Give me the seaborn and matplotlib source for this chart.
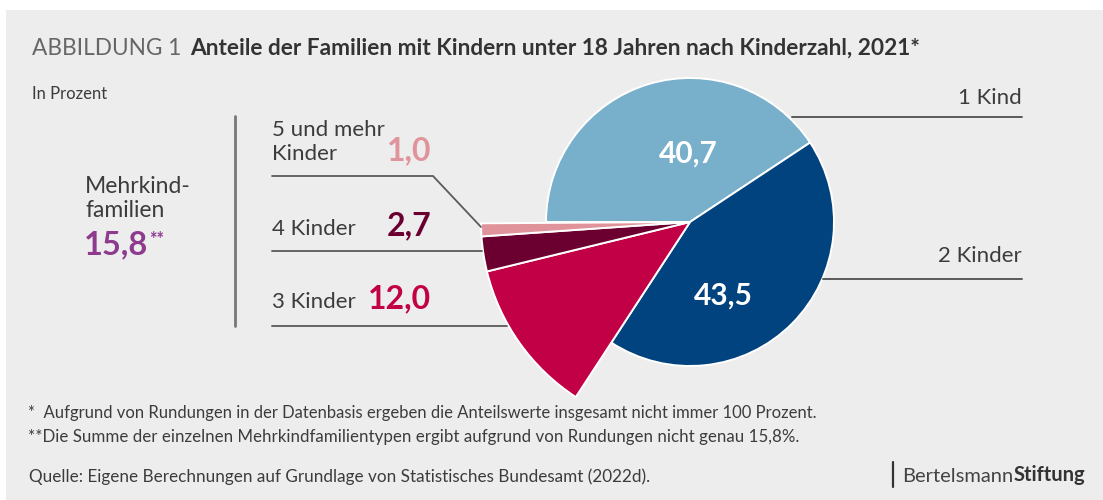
import matplotlib.pyplot as plt
import matplotlib.patches as mpatches
import seaborn as sns
import numpy as np

# Daten
kategorien = ["1 Kind", "2 Kinder", "3 Kinder", "4 Kinder", "5 und mehr\nKinder"]
anteile = [40.7, 43.5, 12.0, 2.7, 1.0]
mehrkind_summe = 15.8
farben = ["#78AFCA", "#00437E", "#C20045", "#6B0030", "#E0939B"]

W, H = 1103, 500
BG = "#EDEDED"
GRAU = "#3C3C3C"
LINIE = "#5A5A5A"

sns.set_theme(style="white")
plt.rcParams['font.family'] = ['Lato', 'DejaVu Sans']


def fmt(v):
    return f"{v:.1f}".replace(".", ",")


def py(y):
    # Pixel von oben -> Datenkoordinate
    return H - y


fig = plt.figure(figsize=(W / 100, H / 100), dpi=100)
fig.patch.set_facecolor("white")
ax = fig.add_axes([0, 0, 1, 1])

# grauer Hintergrund
ax.add_patch(mpatches.Rectangle((6, 0), W - 6, H - 10, facecolor=BG, edgecolor="none", zorder=0))

# ==========================================
# Kreisdiagramm: zwei Radien
# ==========================================
cx, cy = 690, py(222)
fr = [v / 100 for v in anteile]
kw = dict(startangle=180, counterclock=False, normalize=False, center=(cx, cy),
          colors=farben, wedgeprops=dict(edgecolor="white", linewidth=1.4))

innen, _ = ax.pie(fr, radius=144, **kw)
for w in innen[2:]:
    w.set_visible(False)
aussen, _ = ax.pie(fr, radius=209, **kw)
for w in aussen[:2]:
    w.set_visible(False)

ax.text(688, py(154), fmt(anteile[0]), color="white", fontsize=21.5, fontweight="bold",
        ha="center", va="center")
ax.text(723, py(296), fmt(anteile[1]), color="white", fontsize=21.5, fontweight="bold",
        ha="center", va="center")

# ==========================================
# Beschriftungen rechts
# ==========================================
ax.plot([792, 1022], [py(117), py(117)], color=LINIE, lw=1.4)
ax.text(1022, py(104), kategorien[0], ha="right", va="baseline", fontsize=16, color=GRAU)
ax.plot([823, 1022], [py(279), py(279)], color=LINIE, lw=1.4)
ax.text(1022, py(262), kategorien[1], ha="right", va="baseline", fontsize=16, color=GRAU)

# ==========================================
# Beschriftungen links
# ==========================================
ax.plot([235, 235], [py(116), py(326)], color="#777777", lw=2)

ax.plot([272, 433, 481], [py(176), py(176), py(227)], color=LINIE, lw=1.3)
ax.plot([272, 482], [py(251), py(251)], color=LINIE, lw=1.3)
ax.plot([272, 507], [py(326), py(326)], color=LINIE, lw=1.3)

ax.text(272, py(160), kategorien[4], ha="left", va="baseline", fontsize=16, color=GRAU,
        linespacing=1.25)
ax.text(431, py(160), fmt(anteile[4]), ha="right", va="baseline", fontsize=23,
        fontweight="bold", color=farben[4])
ax.text(272, py(235), kategorien[3], ha="left", va="baseline", fontsize=16, color=GRAU)
ax.text(431, py(235), fmt(anteile[3]), ha="right", va="baseline", fontsize=23,
        fontweight="bold", color=farben[3])
ax.text(272, py(308), kategorien[2], ha="left", va="baseline", fontsize=16, color=GRAU)
ax.text(431, py(308), fmt(anteile[2]), ha="right", va="baseline", fontsize=23,
        fontweight="bold", color=farben[2])

ax.text(85, py(217), "Mehrkind-\nfamilien", ha="left", va="baseline", fontsize=16.5,
        color=GRAU, linespacing=1.2)
t = ax.text(84, py(254), fmt(mehrkind_summe), ha="left", va="baseline", fontsize=23.5,
            fontweight="bold", color="#8E3A8E")
ax.annotate("**", xy=(1, 1), xycoords=t, xytext=(0.5, -1), textcoords="offset points",
            ha="left", va="top", fontsize=13, fontweight="bold", color="#8E3A8E")

# ==========================================
# Titel, Fußnoten, Quelle
# ==========================================
ti = ax.text(32, py(55), "ABBILDUNG 1", ha="left", va="baseline", fontsize=16.3,
             fontweight="normal", color="#666666")
ax.annotate("Anteile der Familien mit Kindern unter 18 Jahren nach Kinderzahl, 2021*",
            xy=(1, 0), xycoords=ti, xytext=(6, 0), textcoords="offset points",
            ha="left", va="bottom", fontsize=16.3, fontweight="bold", color="#333333")
ax.text(32, py(99), "In Prozent", ha="left", va="baseline", fontsize=12, color=GRAU)

ax.text(28, py(418), "*  Aufgrund von Rundungen in der Datenbasis ergeben die Anteilswerte "
        "insgesamt nicht immer 100 Prozent.", ha="left", va="baseline", fontsize=12, color=GRAU)
ax.text(28, py(442), "**Die Summe der einzelnen Mehrkindfamilientypen ergibt aufgrund von "
        "Rundungen nicht genau 15,8%.", ha="left", va="baseline", fontsize=12.2, color=GRAU)
ax.text(29, py(482), "Quelle: Eigene Berechnungen auf Grundlage von Statistisches Bundesamt (2022d).",
        ha="left", va="baseline", fontsize=12.3, color=GRAU)

ax.plot([893, 893], [py(462), py(487)], color="#333333", lw=1.6)
bs = ax.text(902, py(482), "Bertelsmann", ha="left", va="baseline", fontsize=14.5, color="#444444")
ax.annotate("Stiftung", xy=(1, 0), xycoords=bs, xytext=(0, 0), textcoords="offset points",
            ha="left", va="bottom", fontsize=14.5, fontweight="bold", color="#333333")

ax.set_xlim(0, W)
ax.set_ylim(0, H)
ax.set_aspect("equal")
ax.axis("off")

fig.savefig("out.png", dpi=100, facecolor=fig.get_facecolor())
